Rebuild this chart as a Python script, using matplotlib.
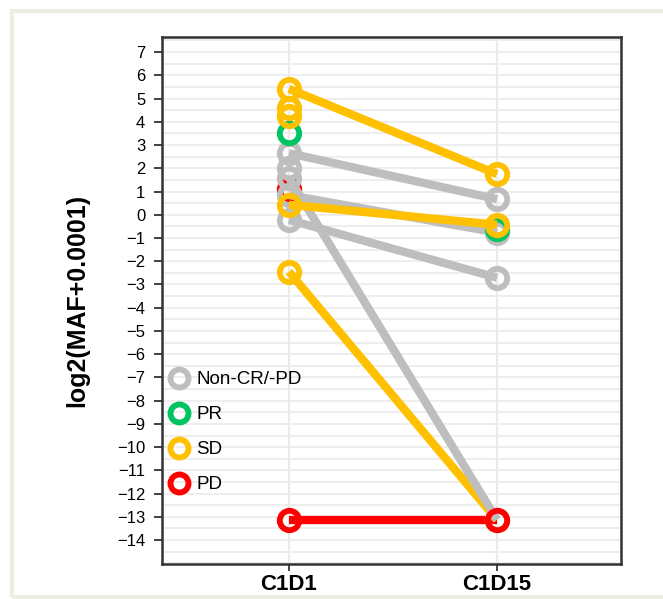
import matplotlib
matplotlib.use('Agg')
import matplotlib.pyplot as plt
from matplotlib.lines import Line2D
from matplotlib.patches import Rectangle
from matplotlib.ticker import MultipleLocator

plt.rcParams['font.family'] = ['Liberation Sans', 'DejaVu Sans']

# log2(MAF + 0.0001); undetected samples sit at the floor value
FLOOR = -13.13

timepoints = ['C1D1', 'C1D15']
groups = ['Non-CR/-PD', 'PR', 'SD', 'PD']
group_colors = {'Non-CR/-PD': '#BEBEBE', 'PR': '#00C462', 'SD': '#FFC000', 'PD': '#FF0000'}

# unpaired samples (drawn first)
single_time = ['C1D1', 'C1D1', 'C1D1', 'C1D1', 'C1D1', 'C1D15']
single_value = [1.1, 4.6, 4.25, 3.5, 2.0, -0.6]
single_group = ['PD', 'SD', 'SD', 'PR', 'Non-CR/-PD', 'PR']

# paired samples C1D1 -> C1D15, listed in drawing order
pair_c1d1 = [-2.45, 1.6, 2.65, 0.85, -0.22, 5.42, 0.43, FLOOR]
pair_c1d15 = [FLOOR, FLOOR, 0.67, -0.77, -2.71, 1.75, -0.43, FLOOR]
pair_group = ['SD', 'Non-CR/-PD', 'Non-CR/-PD', 'Non-CR/-PD', 'Non-CR/-PD', 'SD', 'SD', 'PD']

W, H = 663, 599
fig = plt.figure(figsize=(W / 100, H / 100), dpi=100)
fig.patch.set_facecolor('white')

# light frame around the whole picture
fig.patches.append(Rectangle((12 / W, 1 - 597 / H), 1.0, (597 - 11) / H,
                             transform=fig.transFigure, fill=False,
                             edgecolor='#EEEDE3', linewidth=3))

ax = fig.add_axes([162 / W, 1 - 564 / H, (621 - 162) / W, (564 - 37) / H])

xpos = {t: i + 1 for i, t in enumerate(timepoints)}

ms = 14
mew = 4.2
lw = 6

# single points: PD lowest, then grey, green, yellow
zsingle = {'PD': 2, 'Non-CR/-PD': 3, 'PR': 3.5, 'SD': 4}
for t, v, g in zip(single_time, single_value, single_group):
    ax.plot([xpos[t]], [v], marker='o', ls='none', mfc='none',
            mec=group_colors[g], ms=ms, mew=mew, zorder=zsingle[g])

for i, (a, b, g) in enumerate(zip(pair_c1d1, pair_c1d15, pair_group)):
    zo = 2.5 + i * 0.3
    if g == 'PD':
        zo = 4.5
    ax.plot([xpos['C1D1'], xpos['C1D15']], [a, b], color=group_colors[g], lw=lw,
            solid_capstyle='butt', zorder=zo if g != 'PD' else 1.5)
    ax.plot([xpos['C1D1'], xpos['C1D15']], [a, b], ls='none',
            marker='o', mfc='none', mec=group_colors[g], ms=ms, mew=mew, zorder=zo)

ax.set_xlim(0.39, 2.596)
ax.set_ylim(-15.03, 7.65)
ax.set_xticks([1, 2])
ax.set_xticklabels(timepoints, fontsize=16, fontweight='bold')
ax.yaxis.set_minor_locator(MultipleLocator(0.5))
ax.set_yticks(range(-14, 8))
ax.tick_params(axis='y', which='major', labelsize=12, length=6, width=1.3,
               color='#333333', pad=6)
ax.tick_params(axis='y', which='minor', length=0)
ax.tick_params(axis='x', length=5, width=1.3, color='#333333', pad=2)

ax.grid(True, which='both', axis='y', color='#EBEBEB', lw=1.2, zorder=0)
ax.grid(True, which='major', axis='x', color='#EBEBEB', lw=1.6, zorder=0)
ax.set_axisbelow(True)
for s in ax.spines.values():
    s.set_color('#333333')
    s.set_linewidth(1.8)

ax.set_ylabel('log2(MAF+0.0001)', fontsize=18, fontweight='bold', labelpad=20)

handles = [Line2D([], [], marker='o', ls='none', mfc='none', mec=group_colors[g],
                  ms=ms - 1, mew=mew) for g in groups]
ax.legend(handles, groups, loc='upper left', bbox_to_anchor=(-0.003, 0.38),
          frameon=False, fontsize=13.5, handletextpad=0.3, labelspacing=0.95,
          handlelength=1.2, borderaxespad=0)

fig.savefig('out.png', dpi=100)
